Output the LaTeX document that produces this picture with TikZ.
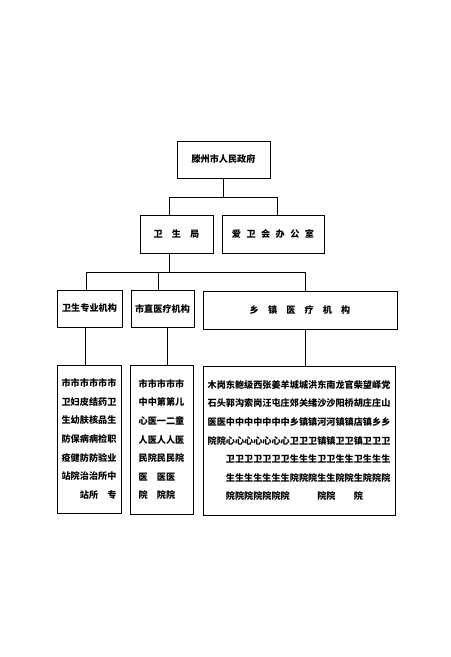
\documentclass[tikz,border=0pt]{standalone}
\usepackage{fontspec}
\setmainfont{Noto Sans CJK SC}
\newcommand{\kg}[1]{\hspace{#1em}}

\begin{document}
\begin{tikzpicture}[x=0.03cm, y=-0.03cm,
box/.style={draw, line width=0.6pt, inner sep=0pt, font=\fontsize{7.8}{9}\selectfont\bfseries},
list/.style={box, align=left, font=\fontsize{7.8}{15.9}\selectfont\bfseries},
conn/.style={line width=0.6pt}]
\useasboundingbox (0,0) rectangle (450,657);
\node[box, minimum width=2.79cm, minimum height=1.11cm] (gov) at (223.5,159.5) {滕州市人民政府};
\node[box, minimum width=2.19cm, minimum height=1.14cm] (wsj) at (176.5,234) {卫\kg{1}生\kg{1}局};
\node[box, minimum width=3.06cm, minimum height=1.14cm] (aiwei) at (273,234) {爱\kg{.6}卫\kg{.6}会\kg{.6}办\kg{.6}公\kg{.6}室};
\node[box, minimum width=1.95cm, minimum height=1.11cm] (zhuanye) at (89.5,308.5) {卫生专业机构};
\node[box, minimum width=1.89cm, minimum height=1.11cm] (shizhi) at (162.5,308.5) {市直医疗机构};
\node[box, minimum width=5.82cm, minimum height=1.14cm] (xiangzhen) at (300,310) {乡\kg{1}镇\kg{1}医\kg{1}疗\kg{1}机\kg{1}构};
%
\node[list, minimum width=1.92cm, minimum height=4.44cm] (zylist) at (89,439)
  {市市市市市市\\卫妇皮结药卫\\生幼肤核品生\\防保病病检职\\疫健防防验业\\站院治治所中\\\kg{2}站所\kg{1}专};
\node[list, minimum width=1.89cm, minimum height=4.47cm] (szlist) at (161.5,439.5)
  {市市市市市\\中中第第儿\\心医一二童\\人医人人医\\民院民民院\\医\kg{1}医医\\院\kg{1}院院};
\node[list, minimum width=5.76cm, minimum height=4.47cm] (xzlist) at (299,440.5)
  {木岗东鲍级西张姜羊城城洪东南龙官柴望峄党\\
   石头郭沟索岗汪屯庄郊关绪沙沙阳桥胡庄庄山\\
   医医中中中中中中中乡镇镇河河镇镇店镇乡乡\\
   院院心心心心心心心卫卫卫镇镇卫卫镇卫卫卫\\
   \kg{2}卫卫卫卫卫卫卫生生生卫卫生生卫生生生\\
   \kg{2}生生生生生生生院院院生生院院生院院院\\
   \kg{2}院院院院院院院\kg{3}院院\kg{2}院};
%
\coordinate (bus1l) at (169,197);
\coordinate (bus1r) at (277,197);
\coordinate (bus2l) at (86,272);
\coordinate (bus2m) at (158,272);
\coordinate (bus2r) at (305,272);
\coordinate (drop1) at (85,0);
\coordinate (drop2) at (167,0);
\coordinate (drop3) at (305,0);
%
\draw[conn] (gov.south) -- (gov.south |- bus1l);
\draw[conn] (bus1l |- wsj.north) -- (bus1l) -- (bus1r) -- (bus1r |- aiwei.north);
\draw[conn] (bus1l |- wsj.south) -- (bus1l |- bus2l);
\draw[conn] (bus2l |- zhuanye.north) -- (bus2l) -- (bus2r) -- (bus2r |- xiangzhen.north);
\draw[conn] (bus2m) -- (bus2m |- shizhi.north);
\draw[conn] (drop1 |- zhuanye.south) -- (drop1 |- zylist.north);
\draw[conn] (drop2 |- shizhi.south) -- (drop2 |- szlist.north);
\draw[conn] (drop3 |- xiangzhen.south) -- (drop3 |- xzlist.north);
\end{tikzpicture}
\end{document}
